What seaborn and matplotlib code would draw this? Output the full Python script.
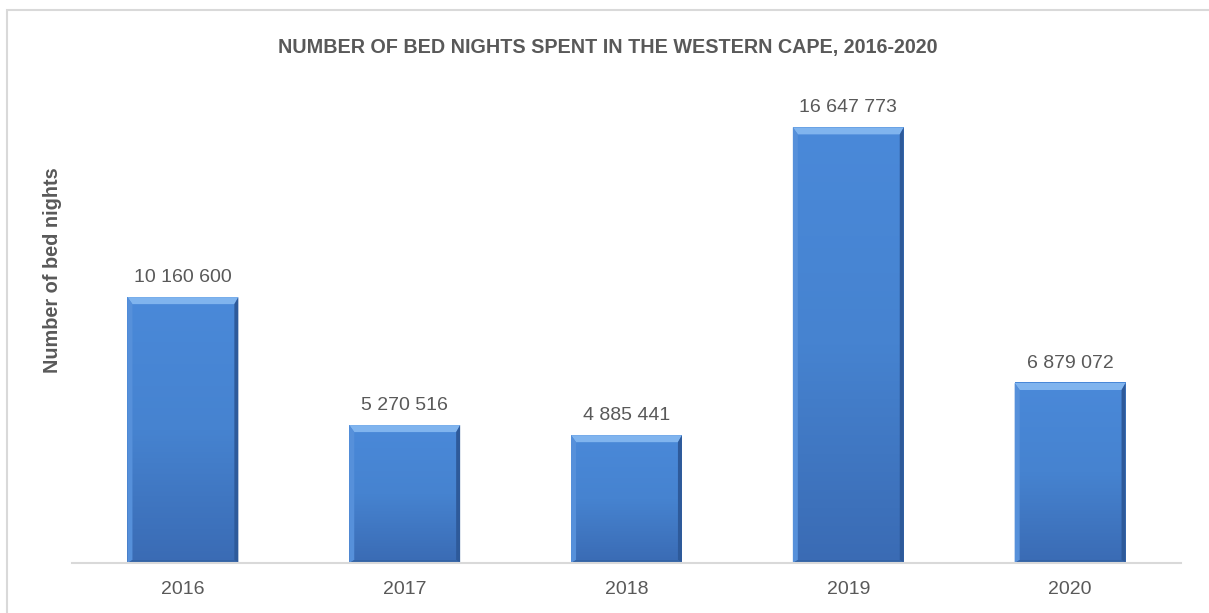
import matplotlib.pyplot as plt
import matplotlib.patches as mpatches
import numpy as np
import pandas as pd
import seaborn as sns
from matplotlib.colors import LinearSegmentedColormap

years = ["2016", "2017", "2018", "2019", "2020"]
bed_nights = [10160600, 5270516, 4885441, 16647773, 6879072]

TEXT = "#595959"
FACE = "#4480CC"
TOP = "#80B4EE"
LEFT = "#5690DA"
RIGHT = "#2E5A9A"
BOTTOM = "#3464A6"

sns.set_theme(style="white")
plt.rcParams["font.family"] = ["Liberation Sans", "DejaVu Sans"]

W, H = 1209, 613
fig = plt.figure(figsize=(W / 100, H / 100), dpi=100)
ax = fig.add_axes([72 / W, 50 / H, (1181 - 72) / W, (563 - 92) / H])

df = pd.DataFrame({"year": years, "nights": bed_nights})
sns.barplot(data=df, x="year", y="nights", color=FACE, width=0.5,
            saturation=1, ax=ax, linewidth=0)
ymax = 18e6
ax.set_ylim(0, ymax)
xlim = ax.get_xlim()

face_cmap = LinearSegmentedColormap.from_list("face", ["#3A6BB4", "#4683D0", "#4A89D9"])
grad = np.linspace(0, 1, 256).reshape(-1, 1)

# bevel edges, sized in pixels and converted to data units
ax_w_px = 1181 - 72
ax_h_px = 563 - 92
px_x = (xlim[1] - xlim[0]) / ax_w_px
px_y = ymax / ax_h_px
for p in list(ax.patches):
    x0, y0 = p.get_x(), p.get_y()
    x1, y1 = x0 + p.get_width(), y0 + p.get_height()
    z = p.get_zorder()
    ax.imshow(grad, extent=[x0, x1, y0, y1], origin="lower", aspect="auto",
              cmap=face_cmap, zorder=z + 0.05, interpolation="bilinear")
    t, l, r, b = 7, 5, 4, 3
    pieces = [
        ([(x0, y1), (x1, y1), (x1 - r * px_x, y1 - t * px_y), (x0 + l * px_x, y1 - t * px_y)], TOP),
        ([(x0, y0), (x0, y1), (x0 + l * px_x, y1 - t * px_y), (x0 + l * px_x, y0 + b * px_y)], LEFT),
        ([(x1, y0), (x1, y1), (x1 - r * px_x, y1 - t * px_y), (x1 - r * px_x, y0 + b * px_y)], RIGHT),
        ([(x0, y0), (x1, y0), (x1 - r * px_x, y0 + b * px_y), (x0 + l * px_x, y0 + b * px_y)], BOTTOM),
    ]
    for pts, col in pieces:
        ax.add_patch(mpatches.Polygon(pts, closed=True, facecolor=col,
                                      edgecolor="none", zorder=z + 0.1))
    label = f"{int(round(y1)):,}".replace(",", " ")
    ax.annotate(label, (x0 + p.get_width() / 2, y1), xytext=(0, 11),
                textcoords="offset points", ha="center", va="baseline",
                fontsize=14, color=TEXT)

ax.set_xlim(xlim)
ax.set_ylim(0, ymax)
for s in ["top", "right", "left"]:
    ax.spines[s].set_visible(False)
ax.spines["bottom"].set_color("#d9d9d9")
ax.spines["bottom"].set_linewidth(1.5)
ax.spines["bottom"].set_zorder(5)
ax.set_yticks([])
ax.set_xlabel("")
ax.set_ylabel("")
ax.tick_params(axis="x", length=0, pad=13, labelsize=14, labelcolor=TEXT)

fig.text(608 / W, 1 - 53 / H, "NUMBER OF BED NIGHTS SPENT IN THE WESTERN CAPE, 2016-2020",
         ha="center", va="baseline", fontsize=14.2, fontweight="bold", color=TEXT)
fig.text(53 / W, 1 - 270 / H, "Number of bed nights", rotation=90,
         ha="center", va="center", fontsize=14.3, fontweight="bold", color=TEXT)

fig.patches.append(mpatches.Rectangle((7 / W, -0.05), 1.1, 1 - 10 / H + 0.05,
                                      transform=fig.transFigure, fill=False,
                                      edgecolor="#d9d9d9", linewidth=1.5))

fig.savefig("out.png", dpi=100)
